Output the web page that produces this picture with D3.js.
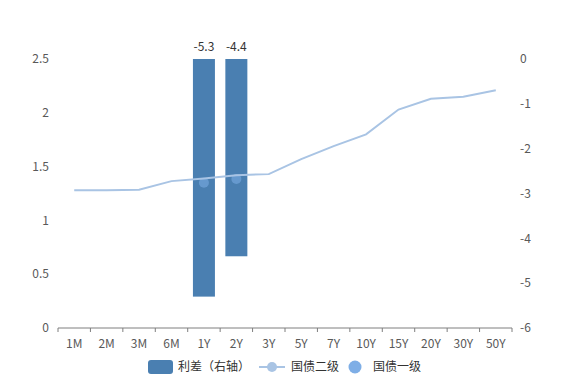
<!DOCTYPE html>
<html>
<head>
<meta charset="utf-8">
<script src="https://cdn.jsdelivr.net/npm/d3@7/dist/d3.min.js"></script>
<style>
  body { margin: 0; background: #fff; }
  text { font-family: "Noto Sans CJK SC", "Noto Sans", sans-serif; font-size: 12px; fill: #595959; }
</style>
</head>
<body>
<svg width="569" height="380"></svg>
<script>
var categories = ["1M", "2M", "3M", "6M", "1Y", "2Y", "3Y", "5Y", "7Y", "10Y", "15Y", "20Y", "30Y", "50Y"];
// 国债二级 (left axis)
var level2 = [1.28, 1.28, 1.285, 1.365, 1.39, 1.42, 1.43, 1.57, 1.69, 1.80, 2.03, 2.13, 2.15, 2.21];
// 国债一级 (left axis), only 1Y and 2Y
var level1 = [null, null, null, null, 1.35, 1.385, null, null, null, null, null, null, null, null];
// 利差 (right axis)
var spread = [null, null, null, null, -5.3, -4.4, null, null, null, null, null, null, null, null];
var leftTicks = [0, 0.5, 1, 1.5, 2, 2.5];
var rightTicks = [0, -1, -2, -3, -4, -5, -6];

var svg = d3.select("svg"),
    margin = {top: 59, right: 57, bottom: 52, left: 58},
    width = +svg.attr("width") - margin.left - margin.right,
    height = +svg.attr("height") - margin.top - margin.bottom,
    g = svg.append("g").attr("transform", "translate(" + margin.left + "," + margin.top + ")");

var x = d3.scaleBand().domain(categories).range([0, width]).padding(0);
var yL = d3.scaleLinear().domain([0, 2.5]).range([height, 0]);
var yR = d3.scaleLinear().domain([-6, 0]).range([height, 0]);

var barW = 22;

// bars
var bars = categories.map(function (c, i) { return {c: c, v: spread[i]}; })
  .filter(function (d) { return d.v != null; });

g.selectAll(".bar")
  .data(bars)
  .enter().append("rect")
  .attr("fill", "#4a7fb1")
  .attr("x", function (d) { return x(d.c) + x.bandwidth() / 2 - barW / 2; })
  .attr("y", yR(0))
  .attr("width", barW)
  .attr("height", function (d) { return yR(d.v) - yR(0); });

g.selectAll(".barlabel")
  .data(bars)
  .enter().append("text")
  .attr("x", function (d) { return x(d.c) + x.bandwidth() / 2; })
  .attr("y", yR(0) - 8)
  .attr("text-anchor", "middle")
  .style("fill", "#333")
  .text(function (d) { return d.v.toFixed(1); });

// scatter
var pts = categories.map(function (c, i) { return {c: c, v: level1[i]}; })
  .filter(function (d) { return d.v != null; });

g.selectAll(".pt")
  .data(pts)
  .enter().append("circle")
  .attr("cx", function (d) { return x(d.c) + x.bandwidth() / 2; })
  .attr("cy", function (d) { return yL(d.v); })
  .attr("r", 5)
  .attr("fill", "#7eaee6")
  .attr("fill-opacity", 0.55);

// line
var line = d3.line()
  .x(function (d, i) { return x(categories[i]) + x.bandwidth() / 2; })
  .y(function (d) { return yL(d); });

g.append("path")
  .datum(level2)
  .attr("fill", "none")
  .attr("stroke", "#a9c4e4")
  .attr("stroke-width", 2)
  .attr("d", line);

// x axis
var xAxis = g.append("g")
  .attr("transform", "translate(0," + height + ")");
xAxis.append("line")
  .attr("x1", 0).attr("x2", width)
  .attr("stroke", "#7f7f7f");
xAxis.selectAll(".tick")
  .data(d3.range(categories.length + 1))
  .enter().append("line")
  .attr("x1", function (i) { return i * x.step(); })
  .attr("x2", function (i) { return i * x.step(); })
  .attr("y1", 0).attr("y2", 4)
  .attr("stroke", "#7f7f7f");
xAxis.selectAll(".xl")
  .data(categories)
  .enter().append("text")
  .attr("x", function (d) { return x(d) + x.bandwidth() / 2; })
  .attr("y", 20)
  .attr("text-anchor", "middle")
  .text(function (d) { return d; });

// left axis labels
g.selectAll(".yl")
  .data(leftTicks)
  .enter().append("text")
  .attr("x", -9)
  .attr("y", function (d) { return yL(d); })
  .attr("dy", "0.35em")
  .attr("text-anchor", "end")
  .text(function (d) { return d; });

// right axis labels
g.selectAll(".yr")
  .data(rightTicks)
  .enter().append("text")
  .attr("x", width + 8)
  .attr("y", function (d) { return yR(d); })
  .attr("dy", "0.35em")
  .attr("text-anchor", "start")
  .text(function (d) { return d; });

// legend
var lg = svg.append("g").attr("transform", "translate(0,367)");
lg.append("rect").attr("x", 148).attr("y", -7).attr("width", 25).attr("height", 14)
  .attr("rx", 3).attr("fill", "#4a7fb1");
lg.append("text").attr("x", 178).attr("y", 0).attr("dy", "0.35em").style("fill", "#333").text("利差（右轴）");
lg.append("line").attr("x1", 259).attr("x2", 285).attr("y1", 0).attr("y2", 0)
  .attr("stroke", "#a9c4e4").attr("stroke-width", 2);
lg.append("circle").attr("cx", 272).attr("cy", 0).attr("r", 5).attr("fill", "#a9c4e4");
lg.append("text").attr("x", 291).attr("y", 0).attr("dy", "0.35em").style("fill", "#333").text("国债二级");
lg.append("circle").attr("cx", 355).attr("cy", 0).attr("r", 6.5).attr("fill", "#7eaee6");
lg.append("text").attr("x", 373).attr("y", 0).attr("dy", "0.35em").style("fill", "#333").text("国债一级");
</script>
</body>
</html>
